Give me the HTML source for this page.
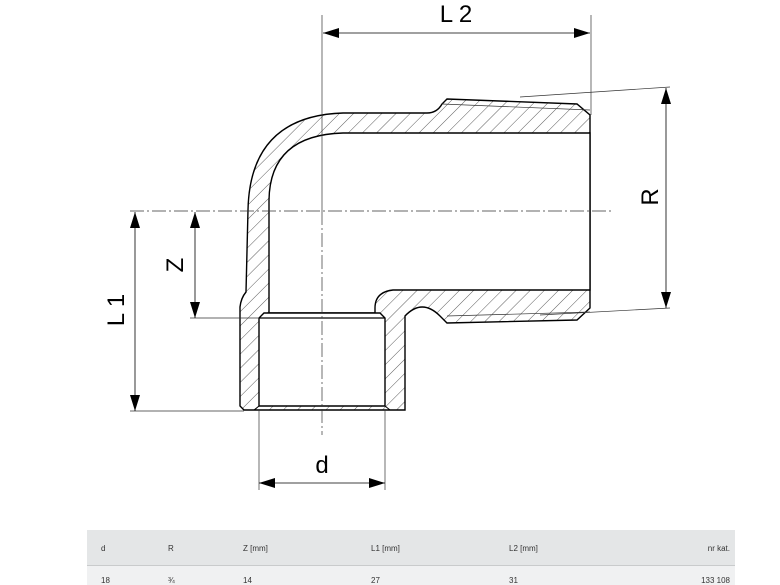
<!DOCTYPE html>
<html><head><meta charset="utf-8"><style>
html,body{margin:0;padding:0;background:#fff;}
body{width:780px;height:585px;position:relative;overflow:hidden;font-family:"Liberation Sans",sans-serif;}
.tb{position:absolute;left:87px;width:648px;}
.h{top:530px;height:35px;background:#e4e6e7;border-bottom:1px solid #c9cbcc;}
.r{top:566px;height:19px;background:#f0f1f2;}
.t{position:absolute;font-size:8px;color:#333;}
</style></head><body>
<svg width="780" height="585" style="position:absolute;left:0;top:0">
<defs>
<pattern id="hatch" patternUnits="userSpaceOnUse" width="10" height="10" patternTransform="rotate(45)">
<line x1="0" y1="0" x2="0" y2="10" stroke="#333" stroke-width="0.8"/>
</pattern>
<marker id="a" viewBox="0 0 16 10" refX="16" refY="5" markerWidth="16" markerHeight="10" markerUnits="userSpaceOnUse" orient="auto-start-reverse">
<path d="M0,0 L16,5 L0,10 z" fill="#000"/>
</marker>
</defs>
<path d="M343,113 L427,113 Q437,113 442,104 L447,99 L577,104 L590,115 L590,308 L577,320 L447,323 L440,316 Q422,298 405,316 L405,410 L400,410 L244,410 L240,406 L240,307 Q241,298 246,292 L248,210 Q250,116 343,113 Z" fill="url(#hatch)" stroke="#000" stroke-width="1.4"/>
<path d="M343,133 L590,133 L590,290 L393,290 Q375,292 375,308 L375,313 L269,313 L269,200 Q270,135 343,133 Z" fill="#fff" stroke="#000" stroke-width="1.4"/>
<path d="M264,313 L380,313 L385,318 L385,406 L259,406 L259,318 Z" fill="#fff" stroke="#000" stroke-width="1.4"/>
<line x1="259" y1="318" x2="385" y2="318" stroke="#000" stroke-width="1.2"/>
<path d="M259,406 L254,410 M385,406 L390,410" stroke="#000" stroke-width="1"/>
<path d="M442,104 L590,110" stroke="#333" stroke-width="0.7" fill="none"/>
<path d="M447,316 L590,312" stroke="#333" stroke-width="0.7" fill="none"/>
<line x1="130" y1="211" x2="612" y2="211" stroke="#333" stroke-width="0.7" stroke-dasharray="14,3,2,3"/>
<line x1="322" y1="15" x2="322" y2="211" stroke="#333" stroke-width="0.7"/>
<line x1="322" y1="211" x2="322" y2="435" stroke="#333" stroke-width="0.7" stroke-dasharray="14,3,2,3"/>
<line x1="591" y1="15" x2="591" y2="115" stroke="#333" stroke-width="0.7"/>
<line x1="190" y1="318" x2="259" y2="318" stroke="#333" stroke-width="0.7"/>
<line x1="130" y1="411" x2="244" y2="411" stroke="#333" stroke-width="0.7"/>
<line x1="259" y1="410" x2="259" y2="490" stroke="#333" stroke-width="0.7"/>
<line x1="385" y1="410" x2="385" y2="490" stroke="#333" stroke-width="0.7"/>
<line x1="520" y1="97" x2="670" y2="87" stroke="#333" stroke-width="0.7"/>
<line x1="540" y1="315" x2="670" y2="308" stroke="#333" stroke-width="0.7"/>
<line x1="323" y1="33" x2="590" y2="33" stroke="#000" stroke-width="0.8" marker-start="url(#a)" marker-end="url(#a)"/>
<line x1="666" y1="88" x2="666" y2="308" stroke="#000" stroke-width="0.8" marker-start="url(#a)" marker-end="url(#a)"/>
<line x1="135" y1="212" x2="135" y2="411" stroke="#000" stroke-width="0.8" marker-start="url(#a)" marker-end="url(#a)"/>
<line x1="195" y1="212" x2="195" y2="318" stroke="#000" stroke-width="0.8" marker-start="url(#a)" marker-end="url(#a)"/>
<line x1="259" y1="483" x2="385" y2="483" stroke="#000" stroke-width="0.8" marker-start="url(#a)" marker-end="url(#a)"/>
<text x="456" y="22" font-size="24" text-anchor="middle" font-family="Liberation Sans, sans-serif">L 2</text>
<text x="322" y="473" font-size="24" text-anchor="middle" font-family="Liberation Sans, sans-serif">d</text>
<text transform="translate(658,197) rotate(-90)" font-size="24" text-anchor="middle" font-family="Liberation Sans, sans-serif">R</text>
<text transform="translate(124,310) rotate(-90)" font-size="24" text-anchor="middle" font-family="Liberation Sans, sans-serif">L 1</text>
<text transform="translate(183,265) rotate(-90)" font-size="24" text-anchor="middle" font-family="Liberation Sans, sans-serif">Z</text>
</svg>
<div class="tb h"></div>
<div class="tb r"></div>
<div class="t" style="left:101px;top:544px">d</div>
<div class="t" style="left:168px;top:544px">R</div>
<div class="t" style="left:243px;top:544px">Z [mm]</div>
<div class="t" style="left:371px;top:544px">L1 [mm]</div>
<div class="t" style="left:509px;top:544px">L2 [mm]</div>
<div class="t" style="left:680px;top:544px;width:50px;text-align:right">nr kat.</div>
<div class="t" style="left:101px;top:576px">18</div>
<div class="t" style="left:168px;top:576px">¾</div>
<div class="t" style="left:243px;top:576px">14</div>
<div class="t" style="left:371px;top:576px">27</div>
<div class="t" style="left:509px;top:576px">31</div>
<div class="t" style="left:680px;top:576px;width:50px;text-align:right">133 108</div>
</body></html>
